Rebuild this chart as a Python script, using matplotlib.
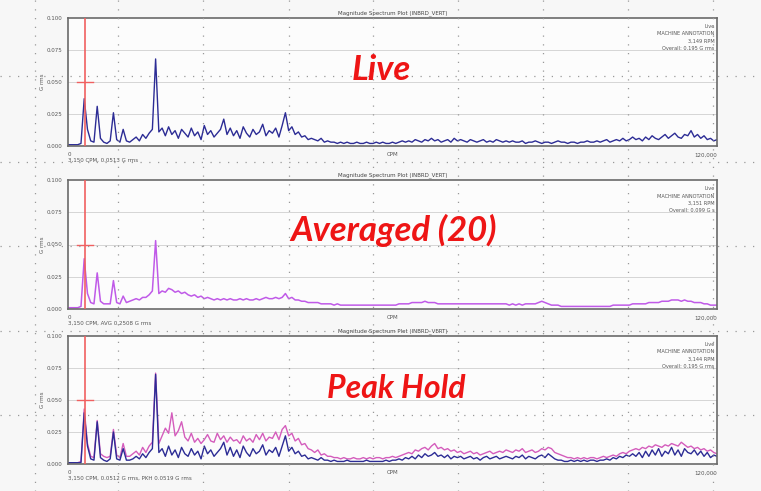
import numpy as np
import matplotlib
matplotlib.use("Agg")
import matplotlib.pyplot as plt

# Spectrum bins: 0 .. 120,000 CPM, 600 CPM apart (201 bins), values in mG rms
cpm = np.arange(0, 120001, 600)

live = [1, 1, 1, 1, 2,
        37, 13, 4, 3, 31, 6, 3, 2, 4, 26, 5, 3, 13, 4, 3, 5, 7, 4, 9, 6, 10, 13, 68, 11,
        14, 8, 15, 9, 12, 6, 13, 10, 7, 14,
        8, 11, 5, 16, 9, 12, 7, 10, 13, 21,
        9, 14, 8, 12, 6, 15, 10, 7, 13, 9,
        11, 17, 8, 12, 10, 14, 7, 16, 26, 12,
        15, 9, 11, 7, 8, 5, 6,
        5, 4, 6, 3, 4, 3, 3, 2, 3, 2, 3, 2, 2, 3, 2, 2, 3, 2, 2, 3,
        2, 3, 2, 2, 3, 2, 3, 4, 3, 4, 3, 5, 4, 3, 5, 4, 6, 4, 5, 3,
        4, 5, 3, 6, 4, 5, 4, 3, 5, 4, 3, 4, 5, 3, 4, 3, 5, 4, 3, 4,
        3, 4, 3, 3, 4, 2, 3, 3, 4, 3, 2, 3, 3, 2, 3, 4, 3, 3, 2, 3,
        3, 2, 3, 3, 4, 3, 3, 4, 3, 4, 5, 3, 4, 5, 4, 6, 4, 5, 7, 5,
        6, 4, 7, 5, 8, 6, 5, 7, 9, 6, 8, 10, 7, 6, 9, 8, 12, 7, 9, 6, 8, 5, 6, 4, 5]

averaged = [1, 1, 1, 1, 2,
            39, 12, 5, 4, 28, 6, 4, 4, 4, 22, 5, 4, 10, 5, 6, 7, 8, 7, 9, 9, 11, 14, 53, 12,
            14, 13, 16, 15, 13, 14, 12, 13, 11, 10,
            11, 9, 10, 8, 9, 8, 7, 8, 7, 8,
            7, 8, 7, 7, 8, 7, 8, 7, 7, 8,
            7, 8, 9, 8, 8, 9, 8, 9, 12, 8,
            9, 7, 7, 6, 6, 5, 5,
            5, 5, 4, 4, 4, 4, 3, 4, 3, 3, 3, 3, 3, 3, 3, 3, 3, 3, 3, 3,
            3, 3, 3, 3, 3, 3, 4, 4, 4, 4, 5, 5, 5, 5, 6, 5, 5, 5, 4, 4,
            4, 4, 4, 4, 4, 4, 4, 4, 4, 4, 4, 4, 4, 4, 4, 4, 4, 4, 4, 4,
            3, 4, 3, 4, 3, 4, 4, 4, 4, 5, 6, 5, 4, 3, 3, 3, 2, 2, 2, 2,
            2, 2, 2, 2, 2, 2, 2, 2, 2, 2, 2, 2, 3, 3, 3, 3, 3, 3, 4, 4,
            4, 4, 4, 5, 5, 5, 5, 6, 6, 6, 7, 7, 7, 6, 7, 6, 6, 5, 5, 5, 4, 4, 3, 3, 3]

peak_hold = [1, 1, 1, 1, 2,
             43, 16, 6, 5, 34, 8, 6, 5, 6, 27, 7, 5, 16, 6, 6, 8, 10, 7, 13, 9, 14, 17, 71, 16,
             22, 28, 24, 40, 22, 26, 33, 21, 18, 24,
             17, 20, 16, 19, 23, 18, 17, 24, 19, 22,
             17, 21, 18, 19, 16, 22, 18, 20, 17, 23,
             19, 24, 18, 21, 20, 25, 19, 27, 30, 22,
             24, 18, 20, 15, 16, 12, 11,
             9, 11, 7, 8, 6, 6, 5, 5, 4, 5, 4, 4, 5, 4, 4, 5, 4, 5, 4, 5,
             5, 4, 5, 5, 6, 5, 6, 7, 8, 9, 8, 11, 10, 12, 13, 11, 14, 16, 12, 13,
             11, 12, 10, 11, 9, 10, 8, 9, 10, 8, 9, 7, 8, 9, 10, 8, 9, 10, 9, 11,
             10, 9, 11, 10, 12, 9, 10, 11, 9, 10, 12, 11, 13, 12, 9, 8, 7, 6, 5, 5,
             4, 5, 4, 5, 4, 5, 5, 4, 5, 6, 5, 6, 7, 6, 8, 9, 8, 10, 11, 12,
             11, 13, 12, 14, 13, 15, 14, 13, 15, 14, 16, 15, 14, 17, 15, 13, 14, 12, 13, 11, 12, 10, 11, 9, 8]

peak_live = [1, 1, 1, 1, 1,
             40, 14, 4, 3, 33, 5, 3, 2, 4, 25, 4, 3, 12, 3, 3, 4, 6, 4, 8, 5, 9, 12, 70, 9,
             12, 6, 14, 7, 11, 5, 13, 8, 6, 12,
             7, 10, 4, 14, 8, 11, 6, 9, 12, 17,
             7, 13, 6, 11, 5, 14, 9, 6, 12, 8,
             10, 15, 7, 11, 9, 13, 6, 14, 22, 10,
             13, 8, 10, 6, 7, 4, 5,
             4, 3, 5, 3, 3, 2, 3, 2, 2, 2, 3, 2, 2, 2, 2, 2, 3, 2, 2, 2,
             2, 2, 3, 2, 3, 3, 4, 3, 5, 4, 6, 4, 7, 5, 8, 6, 7, 9, 6, 7,
             5, 7, 4, 6, 5, 6, 4, 5, 6, 4, 5, 3, 5, 6, 4, 5, 6, 4, 5, 6,
             5, 4, 6, 5, 7, 4, 6, 5, 4, 6, 7, 5, 8, 6, 4, 3, 3, 2, 2, 3,
             2, 3, 2, 3, 2, 3, 3, 2, 3, 3, 4, 3, 5, 4, 6, 5, 7, 6, 8, 6,
             9, 5, 10, 6, 11, 7, 12, 6, 10, 8, 13, 7, 11, 6, 12, 9, 8, 11, 7, 10, 6, 9, 5, 7, 6]

cursor_cpm = 3150
cursor_level = 0.050
y_ticks = [0.0, 0.025, 0.050, 0.075, 0.100]
y_tick_labels = ['0.000', '0.025', '0.050', '0.075', '0.100']

big_labels = ['Live', 'Averaged (20)', 'Peak Hold']
cursor_texts = ['3,150 CPM, 0.0513 G rms',
                '3,150 CPM, AVG 0.2508 G rms',
                '3,150 CPM, 0.0512 G rms, PKH 0.0519 G rms']
annotations = [['Live', 'MACHINE ANNOTATION', '3,149 RPM', 'Overall: 0.195 G rms'],
               ['Live', 'MACHINE ANNOTATION', '3,151 RPM', 'Overall: 0.099 G s'],
               ['Live', 'MACHINE ANNOTATION', '3,144 RPM', 'Overall: 0.195 G rms']]

W, H = 761, 491
fig = plt.figure(figsize=(W / 100, H / 100), dpi=100, facecolor='#f7f7f7')

# panel boxes in pixels: (top, bottom)
panels = [(18, 146), (180, 309), (336, 464)]
left_px, right_px = 68, 717
txt = '#555555'

axes = []
for k, (top, bot) in enumerate(panels):
    ax = fig.add_axes([left_px / W, 1 - bot / H, (right_px - left_px) / W, (bot - top) / H])
    ax.set_facecolor('#fcfcfc')
    ax.set_xlim(0, 120000)
    ax.set_ylim(0, 0.1)
    ax.set_yticks(y_ticks)
    ax.set_yticklabels(y_tick_labels, fontsize=4, color=txt)
    ax.set_xticks([])
    ax.tick_params(axis='y', length=0, pad=4)
    for y in y_ticks[1:-1]:
        ax.axhline(y, color='#cfcfcf', lw=0.6, zorder=0)
    for s in ax.spines.values():
        s.set_color('#6a6a6a')
        s.set_linewidth(1.2)
    ax.set_ylabel('G rms', fontsize=4, color=txt, labelpad=1)
    ax.set_title('Magnitude Spectrum Plot (INBRD_VERT)', fontsize=4, color='#444444', pad=3)
    # below-axis texts
    ax.text(0, -0.005, '0', fontsize=4, color=txt, ha='left', va='top')
    ax.text(60000, -0.005, 'CPM', fontsize=4, color=txt, ha='center', va='top')
    ax.text(120000, -0.005, '120,000', fontsize=4, color=txt, ha='right', va='top')
    ax.text(0, -0.0095, cursor_texts[k], fontsize=4, color=txt, ha='left', va='top')
    # top-right annotation
    for j, line in enumerate(annotations[k]):
        ax.text(0.996, 0.95 - j * 0.055, line, transform=ax.transAxes,
                fontsize=3.6, color='#555555', ha='right', va='top')
    # cursor
    ax.axvline(cursor_cpm, color='#f06060', lw=1.2, zorder=5)
    ax.plot([cursor_cpm - 1500, cursor_cpm + 1500], [cursor_level, cursor_level],
            color='#f06060', lw=1.0, zorder=5)
    axes.append(ax)

m = np.array
axes[0].plot(cpm, m(live) / 1000, color='#2c2c95', lw=1.0)
axes[1].plot(cpm, m(averaged) / 1000, color='#c05ae8', lw=1.1)
axes[2].plot(cpm, m(peak_hold) / 1000, color='#d45cbc', lw=1.0)
axes[2].plot(cpm, m(peak_live) / 1000, color='#2c2c95', lw=1.0)

# page overlay: dotted guide grid and big red labels
ov = fig.add_axes([0, 0, 1, 1], zorder=10)
ov.set_xlim(0, W)
ov.set_ylim(H, 0)
ov.axis('off')
ov.patch.set_alpha(0)
for x in [35, 118, 203, 289, 373, 458, 543, 628, 713]:
    ov.plot([x, x], [0, H], color='#999999', lw=0.9, linestyle=(0, (1, 6)))
for y in [76, 162, 246, 331, 415]:
    ov.plot([0, W], [y, y], color='#999999', lw=0.9, linestyle=(0, (1, 6)))

label_pos = [(381, 80, 25), (394, 241, 25), (396, 398, 23)]
for lab, (x, y, fs) in zip(big_labels, label_pos):
    ov.text(x, y, lab, fontsize=fs, color='#ee1515', fontweight='bold', fontstyle='italic',
            family=['Lato', 'DejaVu Sans'], ha='center', va='baseline')

plt.savefig('out.png', dpi=100, facecolor=fig.get_facecolor())
